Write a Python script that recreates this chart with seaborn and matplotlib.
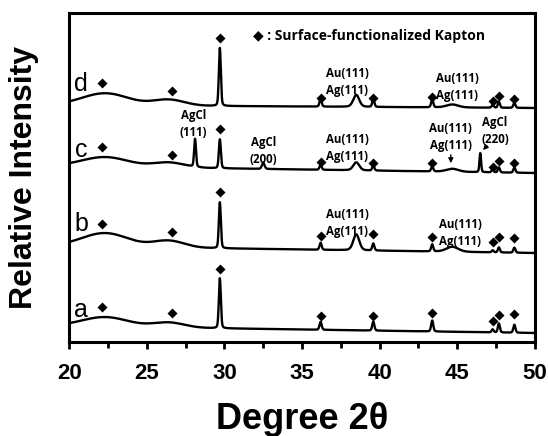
import numpy as np
import pandas as pd
import matplotlib
matplotlib.use('Agg')
import matplotlib.pyplot as plt
import seaborn as sns

# --- data ---
samples = ['a', 'b', 'c', 'd']
two_theta = np.linspace(20, 50, 3001)

# crystalline peaks: position (deg), FWHM (deg)
peak_pos = [28.1, 29.7, 32.5, 36.2, 38.5, 39.6, 43.4, 44.7, 46.5, 47.3, 47.7, 48.7]
peak_fwhm = [0.14, 0.15, 0.2, 0.16, 0.45, 0.16, 0.16, 0.9, 0.12, 0.15, 0.15, 0.16]
peak_height = {
    'a': [0, 50, 0, 8, 0, 9, 11, 0, 0, 3, 9, 8],
    'b': [0, 46, 0, 7, 16, 7, 7, 5, 0, 2, 5, 5],
    'c': [28, 29, 6, 5, 8, 5, 5, 3, 19, 3, 5, 5],
    'd': [0, 58, 0, 8, 12, 8, 8, 3, 0, 3, 6, 5],
}
# amorphous Kapton background
base_level = {'a': 9, 'b': 89, 'c': 169, 'd': 234}
tilt = {'a': 7, 'b': 7, 'c': 7, 'd': 3}
hump1 = {'a': 9.5, 'b': 13.5, 'c': 9.5, 'd': 12}   # ~22.3 deg
hump2 = {'a': 5, 'b': 6.8, 'c': 5, 'd': 6}         # ~26.4 deg

# Kapton diamond markers
kapton_pos = [22.1, 26.6, 29.7, 36.2, 39.6, 43.4, 47.3, 47.7, 48.7]
kapton_mark = {
    'a': [35, 29, 73, 26, 26, 29, 21, 27, 28],
    'b': [118, 110, 150, 106, 108, 105, 100, 105, 104],
    'c': [195, 187, 213, 180, 179, 179, 175, 181, 179],
    'd': [259, 251, 304, 244, 244, 245, 241, 246, 243],
}
label_y = {'a': 32, 'b': 118, 'c': 192, 'd': 258}


def gauss(x, c, s):
    return np.exp(-(x - c) ** 2 / (2 * s ** 2))


def peak(x, c, fwhm):
    g = np.exp(-4 * np.log(2) * (x - c) ** 2 / fwhm ** 2)
    l = 1 / (1 + 4 * (x - c) ** 2 / fwhm ** 2)
    return 0.75 * g + 0.25 * l


rows = []
for s in samples:
    y = base_level[s] + tilt[s] * (50 - two_theta) / 30
    y = y + hump1[s] * gauss(two_theta, 22.3, 1.5) + hump2[s] * gauss(two_theta, 26.4, 1.0)
    for p, w, h in zip(peak_pos, peak_fwhm, peak_height[s]):
        y = y + h * peak(two_theta, p, w)
    rows.append(pd.DataFrame({'two_theta': two_theta, 'intensity': y, 'sample': s}))
df = pd.concat(rows, ignore_index=True)

marks = pd.concat([pd.DataFrame({'two_theta': kapton_pos, 'y': kapton_mark[s]}) for s in samples],
                  ignore_index=True)

# --- plot ---
sns.set_style('ticks')
plt.rcParams['font.family'] = ['Liberation Sans', 'DejaVu Sans']
plt.rcParams['text.color'] = 'black'
plt.rcParams['axes.labelcolor'] = 'black'
plt.rcParams['xtick.color'] = 'black'
plt.rcParams['axes.edgecolor'] = 'black'

fig = plt.figure(figsize=(5.48, 4.36), dpi=100)
ax = fig.add_axes([0.1268, 0.2156, 0.8486, 0.7553])

sns.lineplot(data=df, x='two_theta', y='intensity', hue='sample', palette=['black'] * 4,
             legend=False, linewidth=1.7, ax=ax)
sns.scatterplot(data=marks, x='two_theta', y='y', marker='D', s=26, color='black',
                linewidth=0, ax=ax)

ax.set_xlim(20, 50)
ax.set_ylim(0, 329.3)
ax.set_yticks([])
ax.set_xticks([20, 25, 30, 35, 40, 45, 50])
ax.set_xticks(np.arange(22.5, 50, 5), minor=True)
ax.tick_params(axis='x', which='major', length=5, width=2, labelsize=16, pad=10)
ax.tick_params(axis='x', which='minor', length=4, width=2)
for lab in ax.get_xticklabels():
    lab.set_fontweight('bold')
for sp in ax.spines.values():
    sp.set_linewidth(2.2)

ax.set_xlabel('Degree 2θ', fontsize=26, fontweight='bold', labelpad=13)
ax.set_ylabel('Relative Intensity', fontsize=23, fontweight='bold', labelpad=22)

for s in samples:
    ax.text(20.75, label_y[s], s, fontsize=18, ha='center', va='center')

ann = dict(fontsize=8.3, fontweight='bold', family=['Open Sans', 'DejaVu Sans'],
           ha='center', va='center', linespacing=1.35)
au_ag = 'Au(111)\nAg(111)'
ax.text(37.9, 260, au_ag, **ann)
ax.text(45.0, 255, au_ag, **ann)
ax.text(28.0, 218, 'AgCl\n(111)', **ann)
ax.text(32.5, 191, 'AgCl\n(200)', **ann)
ax.text(37.9, 194, au_ag, **ann)
ax.text(44.6, 205, au_ag, **ann)
ax.text(47.45, 211, 'AgCl\n(220)', **ann)
ax.text(37.9, 119, au_ag, **ann)
ax.text(45.2, 109, au_ag, **ann)

ax.annotate('', xy=(44.6, 176), xytext=(44.6, 190),
            arrowprops=dict(arrowstyle='-|>', color='black', lw=1.0, mutation_scale=7))
ax.annotate('', xy=(46.55, 190), xytext=(47.05, 198),
            arrowprops=dict(arrowstyle='-|>', color='black', lw=1.0, mutation_scale=7))

ax.text(0.395, 0.928, '◆ : Surface-functionalized Kapton', transform=ax.transAxes,
        fontsize=10, fontweight='bold', family=['Open Sans', 'DejaVu Sans'],
        ha='left', va='center')

fig.savefig('out.png', dpi=100)
